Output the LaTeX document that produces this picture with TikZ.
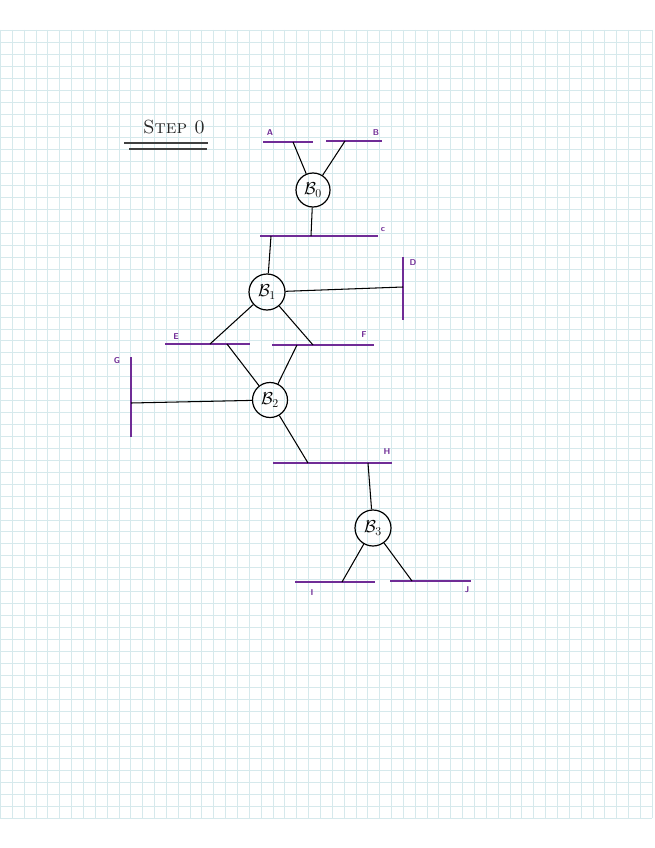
\documentclass[tikz,border=0pt]{standalone}
\usepackage{tikz}
\usetikzlibrary{positioning,calc}
\definecolor{busPurple}{RGB}{112,44,150}
\definecolor{gridCyan}{RGB}{214,233,236}
\tikzset{
  gridline/.style={draw=gridCyan, line width=1.2pt},
  hbus/.style={fill=busPurple, inner sep=0pt, minimum height=2.8pt},
  vbus/.style={fill=busPurple, inner sep=0pt, minimum width=2.8pt},
  breaker/.style={draw, circle, line width=1.2pt, inner sep=0pt, minimum size=#1, font=\fontsize{18}{18}\selectfont},
  buslabel/.style={text=busPurple, inner sep=0pt, font=\sffamily\bfseries\fontsize{8.5}{8.5}\selectfont},
  wire/.style={line width=1.05pt}
}

\begin{document}
\begin{tikzpicture}[x=1pt, y=-1pt]
        \useasboundingbox (0,0) rectangle (655,848);
        \fill[white] (0,0) rectangle (655,848);

        % squared paper
        \foreach \i [evaluate=\i as \gx using {round(\i*11.85)+0.5}] in {0,...,55}
            \draw[gridline] (\gx,30) -- (\gx,818);
        \foreach \j [evaluate=\j as \gy using {round(30+\j*11.94)+0.5}] in {0,...,66}
            \draw[gridline] (0,\gy) -- (652,\gy);

        % title
        \node[font=\fontsize{19}{19}\selectfont, text=black!85] (title) at (174,127) {\textsc{Step 0}};
        \draw[line width=1.1pt, black!75] (124,143) -- (208,143);
        \draw[line width=1.1pt, black!75] (129,149) -- (207,149);

        % buses
        \node[hbus, minimum width=50pt] (A) at (288,142) {};
        \node[hbus, minimum width=56pt] (B) at (354,141) {};
        \node[hbus, minimum width=118pt] (C) at (319,236) {};
        \node[vbus, minimum height=63pt] (D) at (403,288.5) {};
        \node[hbus, minimum width=85pt] (E) at (207.5,344) {};
        \node[hbus, minimum width=102pt] (F) at (323,345) {};
        \node[vbus, minimum height=80pt] (G) at (131,397) {};
        \node[hbus, minimum width=119pt] (H) at (332.5,463) {};
        \node[hbus, minimum width=80pt] (I) at (335,582) {};
        \node[hbus, minimum width=81pt] (J) at (430.5,581) {};

        \node[buslabel] (labA) at (270,133) {A};
        \node[buslabel] (labB) at (376,133) {B};
        \node[buslabel] (labC) at (383,230) {c};
        \node[buslabel] (labD) at (413,263) {D};
        \node[buslabel] (labE) at (176,337) {E};
        \node[buslabel] (labF) at (364,335) {F};
        \node[buslabel] (labG) at (117,361) {G};
        \node[buslabel] (labH) at (387,452) {H};
        \node[buslabel] (labI) at (312,593) {I};
        \node[buslabel] (labJ) at (467,590) {J};

        % breakers
        \node[breaker=34pt] (B0) at (313,190) {$\mathcal{B}_0$};
        \node[breaker=36pt] (B1) at (267,292) {$\mathcal{B}_1$};
        \node[breaker=35pt] (B2) at (270,400) {$\mathcal{B}_2$};
        \node[breaker=36pt] (B3) at (373,528) {$\mathcal{B}_3$};

        % taps on the buses
        \coordinate (tapA) at (293,142);
        \coordinate (tapB) at (345,141);
        \coordinate (tapC0) at (311,236);
        \coordinate (tapC1) at (271,236);
        \coordinate (tapD) at (403,287);
        \coordinate (tapE1) at (210,344);
        \coordinate (tapE2) at (227,344);
        \coordinate (tapF1) at (313,345);
        \coordinate (tapF2) at (297,345);
        \coordinate (tapG) at (131,403);
        \coordinate (tapH1) at (308,463);
        \coordinate (tapH2) at (368,463);
        \coordinate (tapI) at (342,582);
        \coordinate (tapJ) at (412,581);

        % connections
        \draw[wire] (tapA) -- (B0);
        \draw[wire] (tapB) -- (B0);
        \draw[wire] (B0) -- (tapC0);
        \draw[wire] (tapC1) -- (B1);
        \draw[wire] (B1) -- (tapD);
        \draw[wire] (B1) -- (tapE1);
        \draw[wire] (B1) -- (tapF1);
        \draw[wire] (tapE2) -- (B2);
        \draw[wire] (tapF2) -- (B2);
        \draw[wire] (tapG) -- (B2);
        \draw[wire] (B2) -- (tapH1);
        \draw[wire] (tapH2) -- (B3);
        \draw[wire] (B3) -- (tapI);
        \draw[wire] (B3) -- (tapJ);
\end{tikzpicture}
\end{document}
